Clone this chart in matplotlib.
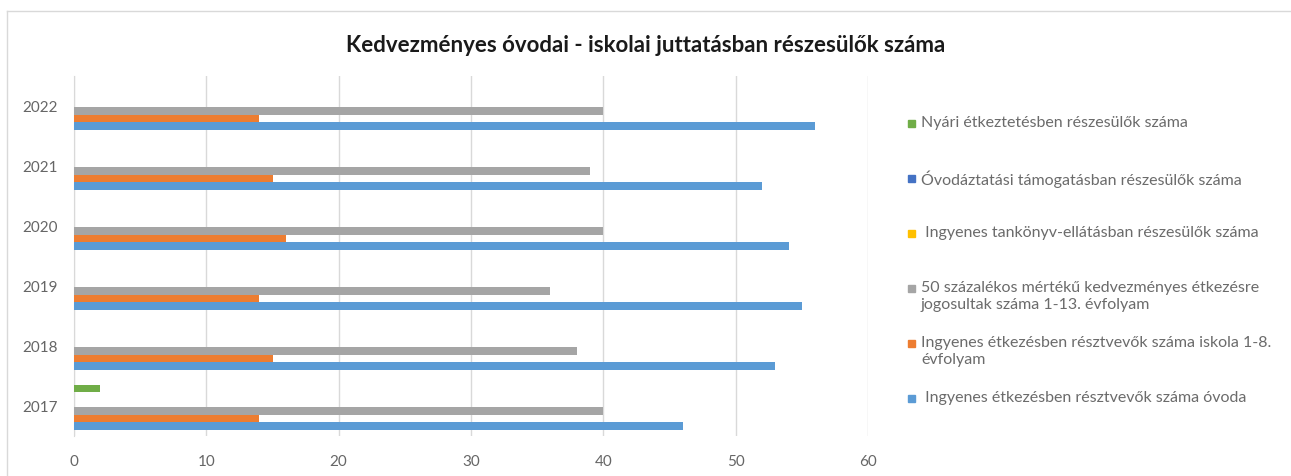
import matplotlib.pyplot as plt
from matplotlib.patches import Rectangle
import numpy as np

plt.rcParams['font.family'] = ['Lato', 'DejaVu Sans']

years = ['2017', '2018', '2019', '2020', '2021', '2022']

# series in Excel order (first one is drawn at the bottom of each group)
series_names = [
    ' Ingyenes étkezésben résztvevők száma óvoda',
    'Ingyenes étkezésben résztvevők száma iskola 1-8.\névfolyam',
    '50 százalékos mértékű kedvezményes étkezésre\njogosultak száma 1-13. évfolyam',
    ' Ingyenes tankönyv-ellátásban részesülők száma',
    'Óvodáztatási támogatásban részesülők száma',
    'Nyári étkeztetésben részesülők száma',
]
ovoda = [46, 53, 55, 54, 52, 56]
iskola = [14, 15, 14, 16, 15, 14]
kedvezmenyes = [40, 38, 36, 40, 39, 40]
tankonyv = [0, 0, 0, 0, 0, 0]
ovodaztatasi = [0, 0, 0, 0, 0, 0]
nyari = [2, 0, 0, 0, 0, 0]
values = [ovoda, iskola, kedvezmenyes, tankonyv, ovodaztatasi, nyari]
colors = ['#5B9BD5', '#ED7D31', '#A5A5A5', '#FFC000', '#4472C4', '#70AD47']

W, H = 1291, 477
fig = plt.figure(figsize=(W / 100, H / 100), dpi=100)
ax = fig.add_axes([74 / W, 1 - 437 / H, (868 - 74) / W, (437 - 77) / H])

y = np.arange(len(years))
h = 0.124
for i, (vals, col) in enumerate(zip(values, colors)):
    ax.barh(y + (i - 2.5) * h - 0.02, vals, height=h, color=col, zorder=3)

ax.set_xlim(0, 60)
ax.set_ylim(-0.5, len(years) - 0.5)
ax.set_xticks(range(0, 61, 10))
ax.set_yticks(y)
ax.set_yticklabels(years)
ax.grid(axis='x', color='#D9D9D9', linewidth=1, zorder=0)
for s in ['top', 'right', 'bottom']:
    ax.spines[s].set_visible(False)
ax.spines['left'].set_color('#D9D9D9')
ax.tick_params(axis='both', length=0, colors='#666666', labelsize=11)
ax.tick_params(axis='y', pad=12)
ax.tick_params(axis='x', pad=13)

fig.text(0.5, 1 - 45 / H, 'Kedvezményes óvodai - iskolai juttatásban részesülők száma',
         ha='center', va='center', fontsize=16, fontweight='bold', color='#1a1a1a')

# legend, top entry first (reverse of series order), one slot per 55 px
for k, i in enumerate(range(len(series_names) - 1, -1, -1)):
    top = 116 + k * 55
    fig.patches.append(Rectangle((908 / W, 1 - (top + 12) / H), 7 / W, 7 / H,
                                 transform=fig.transFigure, color=colors[i]))
    fig.text(921 / W, 1 - top / H, series_names[i], ha='left', va='top',
             fontsize=11.5, color='#6b6b6b', linespacing=1.3)

# chart frame
fig.add_artist(plt.Line2D([7 / W, 1], [1 - 12 / H, 1 - 12 / H], color='#D9D9D9', lw=1))
fig.add_artist(plt.Line2D([7 / W, 7 / W], [0, 1 - 12 / H], color='#D9D9D9', lw=1))

fig.savefig('out.png', dpi=100)
